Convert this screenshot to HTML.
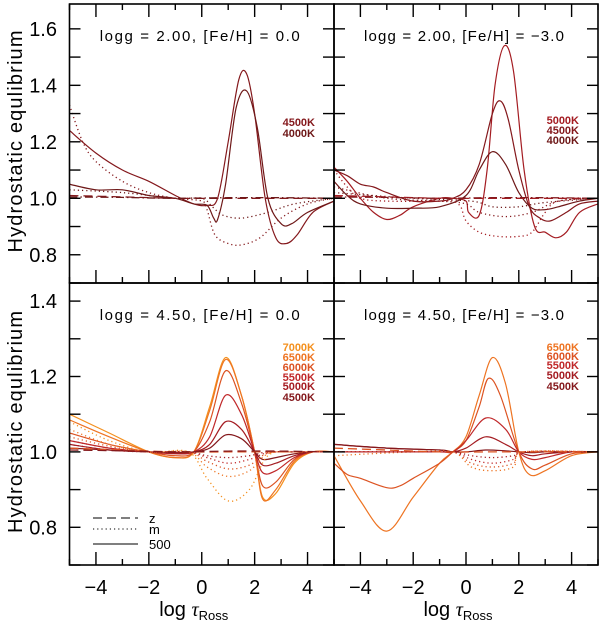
<!DOCTYPE html>
<html><head><meta charset="utf-8"><style>
html,body{margin:0;padding:0;background:#fff}
svg{display:block;font-family:"Liberation Sans",sans-serif}
</style></head><body>
<svg id="chart" width="600" height="623" viewBox="0 0 600 623"></svg>
<script>
// ---- data ----
const xTicks=[-4,-2,0,2,4];
const xTickLabels=["\u22124","\u22122","0","2","4"];
const yTicksTop=[0.8,1.0,1.2,1.4,1.6];
const yTicksBottom=[0.8,1.0,1.2,1.4];
const panelTitles=["logg = 2.00, [Fe/H] = 0.0","logg = 2.00, [Fe/H] = \u22123.0","logg = 4.50, [Fe/H] = 0.0","logg = 4.50, [Fe/H] = \u22123.0"];
const tempLabels=[["4500K","4000K"],["5000K","4500K","4000K"],["7000K","6500K","6000K","5500K","5000K","4500K"],["6500K","6000K","5500K","5000K","4500K"]];
const tempColors={"7000K":"#f4901e","6500K":"#ee7422","6000K":"#dc5322","5500K":"#c0282a","5000K":"#a41c22","4500K":"#84181c","4000K":"#6e1818"};
// curves: [panel, temp, style, xs, ys]
const c0x=[-5,-4,-3,-2,-1,-0.3,0.2,0.6,1.0,1.4,1.7,2.0,2.4,2.8,3.2,3.6,4.2,5];
const c0y=[1.24,1.16,1.10,1.06,1.01,0.98,0.975,1.0,1.2,1.42,1.44,1.3,1.0,0.86,0.84,0.87,0.95,0.99];
const c1x=[-5,-4,-3,-2,-1,-0.3,0.2,0.45,0.6,0.9,1.3,1.7,2.1,2.5,3.0,3.4,4.0,5];
const c1y=[1.05,1.03,1.03,1.01,1.0,0.98,0.975,0.93,0.925,1.05,1.32,1.38,1.25,1.0,0.91,0.91,0.95,0.99];
const d0x=[-5,-4.5,-4,-3,-2,-1,0,0.2,0.5,1,1.5,2.2,3,4,5];
const d0y=[1.33,1.2,1.13,1.06,1.02,1.0,0.99,0.96,0.87,0.84,0.835,0.86,0.93,0.98,1.0];
const d1x=[-5,-3,-1,0,0.4,0.8,1.5,2.5,3.5,5];
const d1y=[1.03,1.02,1.0,1.0,0.97,0.94,0.93,0.95,0.98,1.0];
const flatx=[-5,-3,-1,1,3,5];
const flatA=[1.01,1.005,1.0,1.0,1.0,1.0];
const flatB=[1.005,1.003,1.0,1.002,1.002,1.0];
const e0x=[-5,-4.5,-4,-3.5,-3,-2.5,-2,-1,-0.5,0,0.1,0.5,0.8,1.1,1.45,1.8,2.2,2.6,3.0,3.4,3.8,4.3,5];
const e0y=[1.11,1.06,1.0,0.95,0.925,0.94,0.97,1.0,1.0,0.99,0.95,0.94,1.1,1.4,1.54,1.45,1.1,0.9,0.88,0.86,0.88,0.95,0.98];
const e1x=[-5,-4.5,-4,-3.5,-3,-2,-1,-0.5,0,0.5,1,1.3,1.6,2.0,2.4,2.8,3.2,3.8,4.3,5];
const e1y=[1.1,1.08,1.05,1.04,1.02,0.99,0.99,1.0,1.03,1.12,1.3,1.345,1.28,1.1,0.97,0.93,0.92,0.95,0.98,0.99];
const e2x=[-5,-4.5,-4,-3,-2,-1,0,0.5,1.0,1.5,2.0,2.5,3,3.5,4.3,5];
const e2y=[1.06,1.01,0.98,0.965,0.965,0.97,1.01,1.1,1.165,1.12,1.02,0.965,0.96,0.97,0.99,1.0];
const f0x=[-5,-4.5,-4,-3,-1,-0.5,-0.2,0,0.5,1.2,2,2.5,3,3.5,5];
const f0y=[1.1,1.04,1.0,0.99,0.99,0.99,0.97,0.92,0.88,0.865,0.865,0.88,0.95,0.99,1.0];
const f1x=[-5,-3,-1,0,0.5,1.5,2.5,3.5,5];
const f1y=[1.04,1.0,0.99,0.98,0.95,0.935,0.95,0.99,1.0];
const f2x=[-5,-2,0.2,1,2,3,5];
const f2y=[1.02,1.0,0.99,0.97,0.97,0.985,1.0];
const bx=[-5,-3.5,-2,-1,-0.3,0.3,0.9,1.5,2.0,2.3,2.8,3.5,4.2,5];
const b7=[1.10,1.05,1.0,0.985,1.0,1.12,1.25,1.15,1.0,0.88,0.89,0.97,1.0,1.0];
const b65=[1.085,1.04,1.0,0.985,1.0,1.11,1.245,1.15,1.0,0.875,0.9,0.975,1.0,1.0];
const b6=[1.05,1.02,1.0,0.99,1.0,1.08,1.215,1.13,1.0,0.91,0.92,0.98,1.0,1.0];
const b55=[1.03,1.01,1.0,0.995,1.0,1.04,1.15,1.1,1.0,0.945,0.95,0.985,1.0,1.0];
const b5=[1.02,1.005,1.0,0.997,1.0,1.02,1.08,1.06,1.0,0.965,0.97,0.99,1.0,1.0];
const b45=[1.01,1.005,1.0,0.998,1.0,1.01,1.045,1.035,1.0,0.98,0.985,0.995,1.0,1.0];
const bdx=[-5,-3.5,-2,-0.5,0.2,1.0,1.8,2.5,3.5,5];
const bd7=[1.08,1.03,1.0,1.0,0.93,0.87,0.9,0.99,1.0,1.0];
const bd65=[1.06,1.02,1.0,1.0,0.96,0.935,0.95,0.995,1.0,1.0];
const bd6=[1.04,1.015,1.0,1.0,0.975,0.955,0.965,0.997,1.0,1.0];
const bd55=[1.03,1.01,1.0,1.0,0.985,0.97,0.98,0.998,1.0,1.0];
const bd5=[1.02,1.005,1.0,1.0,0.99,0.985,0.99,1.0,1.0,1.0];
const rx65=[-5,-4,-3,-2,-1,-0.5,0,0.5,1,1.5,2,2.4,3,4,5];
const ry65=[0.99,0.87,0.79,0.88,0.97,1.0,1.04,1.15,1.25,1.18,1.0,0.94,0.95,0.99,1.0];
const rx6=[-5,-4.5,-4,-3,-2.5,-2,-1,-0.5,0,0.5,0.85,1.3,2,2.5,3,4,5];
const ry6=[0.97,0.94,0.93,0.905,0.91,0.93,0.97,1.0,1.03,1.12,1.195,1.15,1.0,0.955,0.965,0.995,1.0];
const rx55=[-5,-3,-1,-0.5,0,0.75,1.5,2,2.5,3,4,5];
const ry55=[1.0,1.0,1.0,1.0,1.03,1.09,1.06,1.0,0.98,0.985,1.0,1.0];
const ry5=[1.02,1.01,1.005,1.0,1.01,1.04,1.02,1.0,0.99,0.995,1.0,1.0];
const ry45=[1.02,1.01,1.005,1.0,1.0,1.005,1.003,1.0,0.998,1.0,1.0,1.0];
const rdx=[-5,-2,-0.5,0.2,1.0,1.8,2.2,5];
const rd65=[0.99,1.0,1.0,0.96,0.95,0.96,1.0,1.0];
const rd6=[1.0,1.0,1.0,0.97,0.96,0.97,1.0,1.0];
const rd55=[1.0,1.0,1.0,0.98,0.97,0.98,1.0,1.0];
const rd5=[1.0,1.0,1.0,0.99,0.985,0.99,1.0,1.0];
const curves=[
 [0,"4500K","solid",c0x,c0y],[0,"4000K","solid",c1x,c1y],[0,"4500K","dot",d0x,d0y],[0,"4000K","dot",d1x,d1y],
 [0,"4500K","dash",flatx,flatA],[0,"4000K","dashdot",flatx,flatB],
 [1,"5000K","solid",e0x,e0y],[1,"4500K","solid",e1x,e1y],[1,"4000K","solid",e2x,e2y],
 [1,"5000K","dot",f0x,f0y],[1,"4500K","dot",f1x,f1y],[1,"4000K","dot",f2x,f2y],
 [1,"5000K","dash",flatx,flatA],[1,"4500K","dashdot",flatx,flatB],
 [2,"7000K","solid",bx,b7],[2,"6500K","solid",bx,b65],[2,"6000K","solid",bx,b6],[2,"5500K","solid",bx,b55],[2,"5000K","solid",bx,b5],[2,"4500K","solid",bx,b45],
 [2,"7000K","dot",bdx,bd7],[2,"6500K","dot",bdx,bd65],[2,"6000K","dot",bdx,bd6],[2,"5500K","dot",bdx,bd55],[2,"5000K","dot",bdx,bd5],
 [2,"6000K","dash",flatx,flatA],[2,"4500K","dash",flatx,flatB],
 [3,"6500K","solid",rx65,ry65],[3,"6000K","solid",rx6,ry6],[3,"5500K","solid",rx55,ry55],[3,"5000K","solid",rx55,ry5],[3,"4500K","solid",rx55,ry45],
 [3,"6500K","dot",rdx,rd65],[3,"6000K","dot",rdx,rd6],[3,"5500K","dot",rdx,rd55],[3,"5000K","dot",rdx,rd5],
 [3,"6000K","dash",flatx,flatA]
];
// ---- layout ----
const NS="http://www.w3.org/2000/svg";
const svg=document.getElementById('chart');
const panels=[
 {x0:69.5,x1:334,y0:4,y1:283,ymin:0.7,ymax:1.688,yt:yTicksTop,left:true,name:"panel-top-left"},
 {x0:334,x1:598,y0:4,y1:283,ymin:0.7,ymax:1.688,yt:yTicksTop,left:false,name:"panel-top-right"},
 {x0:69.5,x1:334,y0:283,y1:565,ymin:0.7,ymax:1.448,yt:yTicksBottom,left:true,name:"panel-bottom-left"},
 {x0:334,x1:598,y0:283,y1:565,ymin:0.7,ymax:1.448,yt:yTicksBottom,left:false,name:"panel-bottom-right"}];
function sx(p,v){return p.x0+(v+5)/10*(p.x1-p.x0);}
function sy(p,v){return p.y1-(v-p.ymin)/(p.ymax-p.ymin)*(p.y1-p.y0);}
function mk(tag,attrs,parent){const e=document.createElementNS(NS,tag);for(const k in attrs)e.setAttribute(k,attrs[k]);(parent||svg).appendChild(e);return e;}
function smooth(pts){let d="M"+pts[0][0].toFixed(1)+","+pts[0][1].toFixed(1);
 for(let i=0;i<pts.length-1;i++){const p0=pts[Math.max(0,i-1)],p1=pts[i],p2=pts[i+1],p3=pts[Math.min(pts.length-1,i+2)];
  const c1=[p1[0]+(p2[0]-p0[0])/6,p1[1]+(p2[1]-p0[1])/6],c2=[p2[0]-(p3[0]-p1[0])/6,p2[1]-(p3[1]-p1[1])/6];
  d+="C"+c1.map(v=>v.toFixed(1))+" "+c2.map(v=>v.toFixed(1))+" "+p2.map(v=>v.toFixed(1));}
 return d;}
const dashes={solid:"",dot:"1.2,3",dash:"9,5",dashdot:"8,3,1.5,3"};
panels.forEach((p,pi)=>{
 const g=mk('g',{});
 
 
 const clip=mk('clipPath',{id:'cl'+pi},g);mk('rect',{x:p.x0,y:p.y0,width:p.x1-p.x0,height:p.y1-p.y0},clip);
 const cg=mk('g',{'clip-path':'url(#cl'+pi+')'},g);
 curves.filter(c=>c[0]===pi).forEach(c=>{
  const pts=c[3].map((xv,i)=>[sx(p,xv),sy(p,c[4][i])]);
  const path=mk('path',{d:smooth(pts),fill:'none',stroke:tempColors[c[1]],'stroke-width':c[2]==='solid'?1.2:1.3,'stroke-dasharray':dashes[c[2]]},cg);
  
  
 });
 mk('rect',{x:p.x0,y:p.y0,width:p.x1-p.x0,height:p.y1-p.y0,fill:'none',stroke:'#000','stroke-width':1.6},g);
 // x ticks
 for(let v=-5;v<=5;v++){const X=sx(p,v),L=(v%2===0)?13:6;
  mk('line',{x1:X,x2:X,y1:p.y1,y2:p.y1-L,stroke:'#000','stroke-width':1.4},g);
  if(pi<2) mk('line',{x1:X,x2:X,y1:p.y0,y2:p.y0+L,stroke:'#000','stroke-width':1.4},g);}
 // y ticks
 for(let k=Math.ceil(p.ymin*10);k<=Math.floor(p.ymax*10);k++){const Y=sy(p,k/10);
  mk('line',{x1:p.x0,x2:p.x0+11,y1:Y,y2:Y,stroke:'#000','stroke-width':1.4},g);
  mk('line',{x1:p.x1,x2:p.x1-11,y1:Y,y2:Y,stroke:'#000','stroke-width':1.4},g);}
 if(p.left){p.yt.forEach(v=>{const t=mk('text',{x:57,y:sy(p,v)+7,'font-size':20,'text-anchor':'end',fill:'#000'},g);t.textContent=v.toFixed(1);
   });
  const yt=mk('text',{transform:`translate(22,${(p.y0+p.y1)/2-2}) rotate(-90)`,'font-size':20,'text-anchor':'middle',fill:'#000',textLength:222},g);
  yt.textContent="Hydrostatic equlibrium";}
 if(pi>=2){xTicks.forEach((v,i)=>{const t=mk('text',{x:sx(p,v),y:594,'font-size':20,'text-anchor':'middle',fill:'#000'},g);t.textContent=xTickLabels[i];
   });
  const xt=mk('text',{x:(p.x0+p.x1)/2-8,y:616,'font-size':20,'text-anchor':'middle',fill:'#000'},g);
  xt.innerHTML='log  <tspan font-family="Liberation Serif" font-style="italic">τ</tspan><tspan font-size="13" dy="4">Ross</tspan>';
  }
 const tt=mk('text',{x:(p.x0+p.x1)/2-2,y:p.y0+37,'font-size':15,'text-anchor':'middle',fill:'#000',textLength:200},g);
 tt.textContent=panelTitles[pi];
 const ly=[[122,133],[120,130,140],[347,357,367,377,386,397],[347,356,365,375,386]][pi];
 tempLabels[pi].forEach((lab,i)=>{const t=mk('text',{x:p.x1-19,y:ly[i]+4,'font-size':11,'font-weight':'bold','text-anchor':'end',fill:tempColors[lab]},g);t.textContent=lab;
  });
});
// style legend
const lg=mk('g',{});


[["z","9,5",518],["m","1.2,3",529],["500","",544]].forEach(r=>{
 mk('line',{x1:93,x2:138,y1:r[2],y2:r[2],stroke:'#333','stroke-width':1.3,'stroke-dasharray':r[1]},lg);
 const t=mk('text',{x:149,y:r[2]+5,'font-size':13,fill:'#000'},lg);t.textContent=r[0];
 });
</script>
</body></html>
